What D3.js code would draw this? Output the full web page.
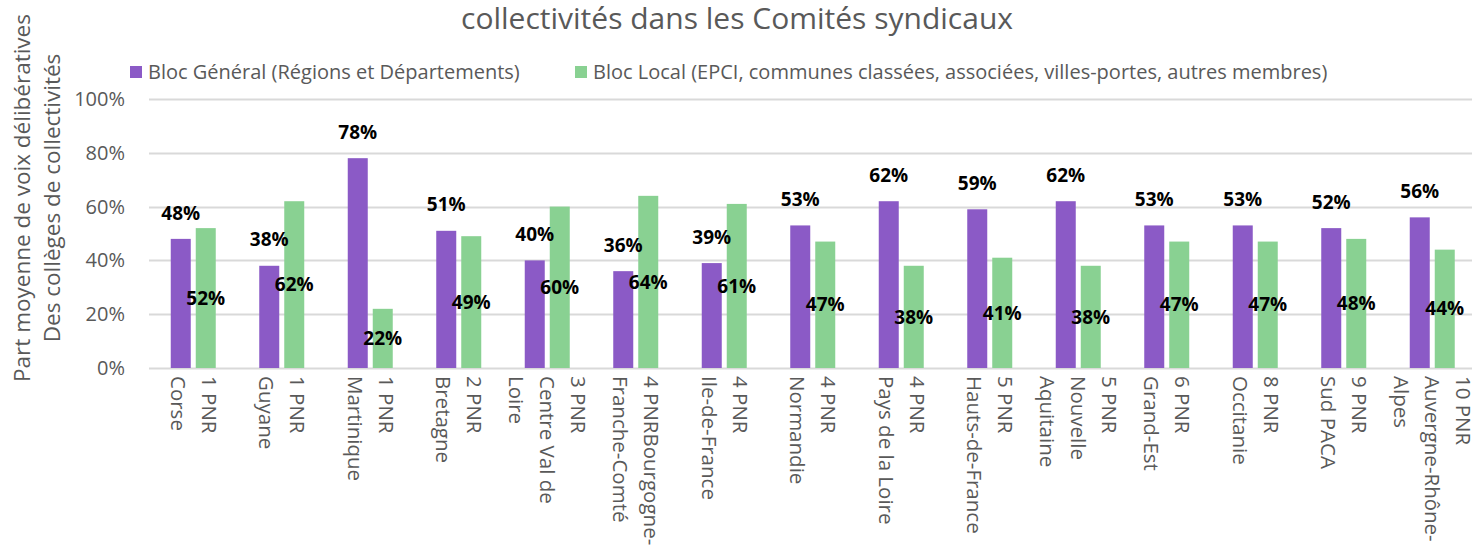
<!DOCTYPE html>
<html>
<head>
<meta charset="utf-8">
<script src="https://cdn.jsdelivr.net/npm/d3@7"></script>
<style>
  body { margin: 0; background: #fff; }
  svg { display: block; }
  text { font-family: "Open Sans", "Noto Sans", sans-serif; }
</style>
</head>
<body>
<svg id="chart" width="1472" height="545"></svg>
<script>
// regions and their number of PNR
var regions = ["Corse", "Guyane", "Martinique", "Bretagne", "Centre Val de Loire",
    "Bourgogne-Franche-Comté", "Ile-de-France", "Normandie", "Pays de la Loire",
    "Hauts-de-France", "Nouvelle Aquitaine", "Grand-Est", "Occitanie", "Sud PACA",
    "Auvergne-Rhône-Alpes"];

// axis label lines, as they wrap in the original (first line on the right)
var labelLines = [
    ["1 PNR", "Corse"],
    ["1 PNR", "Guyane"],
    ["1 PNR", "Martinique"],
    ["2 PNR", "Bretagne"],
    ["3 PNR", "Centre Val de", "Loire"],
    ["4 PNRBourgogne-", "Franche-Comté"],
    ["4 PNR", "Ile-de-France"],
    ["4 PNR", "Normandie"],
    ["4 PNR", "Pays de la Loire"],
    ["5 PNR", "Hauts-de-France"],
    ["5 PNR", "Nouvelle", "Aquitaine"],
    ["6 PNR", "Grand-Est"],
    ["8 PNR", "Occitanie"],
    ["9 PNR", "Sud PACA"],
    ["10 PNR", "Auvergne-Rhône-", "Alpes"]
];

var blocGeneral = [48, 38, 78, 51, 40, 36, 39, 53, 62, 59, 62, 53, 53, 52, 56];
var blocLocal   = [52, 62, 22, 49, 60, 64, 61, 47, 38, 41, 38, 47, 47, 48, 44];

var seriesNames = ["Bloc Général (Régions et Départements)",
    "Bloc Local (EPCI, communes classées, associées, villes-portes, autres membres)"];

var yTicks = [0, 20, 40, 60, 80, 100];

var colors = ["#8b5ac6", "#89d192"];
var grey = "#595959";

var svg = d3.select("#chart");

var plot = { left: 149, right: 1476.5, top: 99, bottom: 368 };

var x0 = d3.scaleBand()
    .domain(regions)
    .range([plot.left, plot.right])
    .paddingInner(0.4915)
    .paddingOuter(0.4915 / 2);

var x1 = d3.scaleBand()
    .domain([0, 1])
    .range([0, x0.bandwidth()])
    .paddingInner(0.2);

var y = d3.scaleLinear()
    .domain([0, 100])
    .range([plot.bottom, plot.top]);

// title (only the last line is in view)
svg.append("text")
    .attr("x", 737)
    .attr("y", 29)
    .attr("text-anchor", "middle")
    .attr("fill", grey)
    .style("font-size", "30px")
    .text("collectivités dans les Comités syndicaux");

// gridlines
svg.append("g")
    .selectAll("line")
    .data(yTicks)
    .enter().append("line")
    .attr("x1", plot.left)
    .attr("x2", 1472)
    .attr("y1", function(d) { return Math.round(y(d)) + 0.5; })
    .attr("y2", function(d) { return Math.round(y(d)) + 0.5; })
    .attr("stroke", "#d9d9d9")
    .attr("stroke-width", 2);

// y axis labels
var yAxis = d3.axisLeft(y)
    .tickValues(yTicks)
    .tickSize(0)
    .tickPadding(24)
    .tickFormat(function(d) { return d + "%"; });

var ya = svg.append("g")
    .attr("transform", "translate(" + plot.left + ",0)")
    .call(yAxis);
ya.select(".domain").remove();
ya.selectAll("text")
    .attr("fill", grey)
    .style("font-family", "'Open Sans', sans-serif")
    .style("font-size", "20px");

// y axis title
var yTitle = ["Part moyenne de voix délibératives", "Des collèges de collectivités"];
svg.append("g")
    .selectAll("text")
    .data(yTitle)
    .enter().append("text")
    .attr("transform", function(d, i)
    {
        return "translate(" + (30 + i * 30) + ",198) rotate(-90)";
    })
    .attr("text-anchor", "middle")
    .attr("fill", grey)
    .style("font-size", "22.5px")
    .text(function(d) { return d; });

// bars
var groups = svg.append("g")
    .selectAll("g")
    .data(regions)
    .enter().append("g")
    .attr("transform", function(d) { return "translate(" + x0(d) + ",0)"; });

var barData = function(d, i)
{
    return [
        { s: 0, value: blocGeneral[i] },
        { s: 1, value: blocLocal[i] }
    ];
};

groups.selectAll("rect")
    .data(barData)
    .enter().append("rect")
    .attr("x", function(d) { return x1(d.s); })
    .attr("width", x1.bandwidth())
    .attr("y", function(d) { return y(d.value); })
    .attr("height", function(d) { return y(0) - y(d.value); })
    .attr("fill", function(d) { return colors[d.s]; });

// data labels: general above the bar, local in the middle of it
groups.selectAll("text.lbl")
    .data(barData)
    .enter().append("text")
    .attr("class", "lbl")
    .attr("x", function(d) { return x1(d.s) + x1.bandwidth() / 2; })
    .attr("y", function(d)
    {
        return d.s === 0 ? y(d.value) - 26 : (y(d.value) + y(0)) / 2;
    })
    .attr("dy", "0.35em")
    .attr("text-anchor", "middle")
    .attr("fill", "#000")
    .style("font-size", "19px")
    .style("font-weight", "bold")
    .text(function(d) { return d.value + "%"; });

// category labels, rotated, reading downwards
var lineH = 31;
groups.each(function(d, i)
{
    var lines = labelLines[i];
    var n = lines.length;
    var cx = x0.bandwidth() / 2;
    d3.select(this).selectAll("text.cat")
        .data(lines)
        .enter().append("text")
        .attr("class", "cat")
        .attr("transform", function(t, k)
        {
            var lx = cx + ((n - 1) / 2 - k) * lineH;
            return "translate(" + lx + "," + (plot.bottom + 8) + ") rotate(90)";
        })
        .attr("dy", "0.35em")
        .attr("fill", grey)
        .style("font-size", "20.5px")
        .text(function(t) { return t; });
});

// legend
var legendX = [130, 575];
var legend = svg.append("g")
    .selectAll("g")
    .data(seriesNames)
    .enter().append("g")
    .attr("transform", function(d, i) { return "translate(" + legendX[i] + ",66)"; });

legend.append("rect")
    .attr("width", 12)
    .attr("height", 12)
    .attr("fill", function(d, i) { return colors[i]; });

legend.append("text")
    .attr("x", 18)
    .attr("y", 6)
    .attr("dy", "0.35em")
    .attr("fill", grey)
    .style("font-size", "20px")
    .text(function(d) { return d; });
</script>
</body>
</html>
